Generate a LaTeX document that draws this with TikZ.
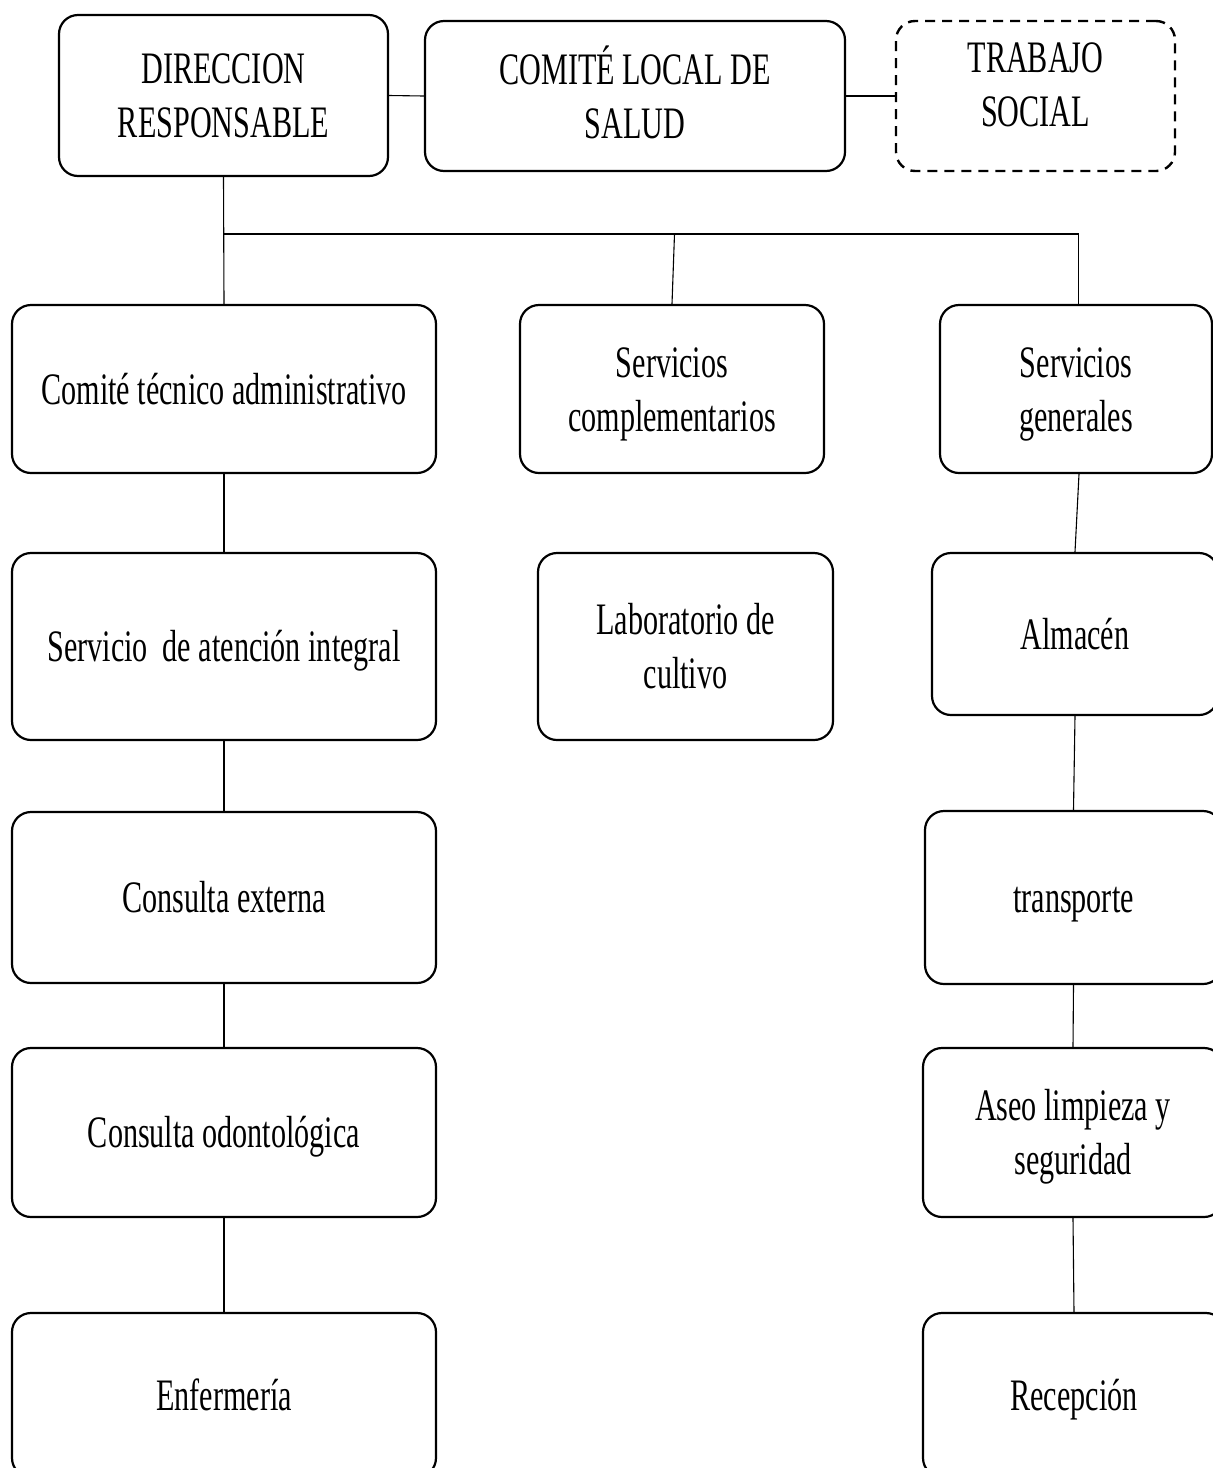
\documentclass[tikz,border=0pt]{standalone}
\usepackage{fontspec}
\setmainfont{Liberation Serif}[FakeStretch=0.67]
\begin{document}
\begin{tikzpicture}[x=1pt,y=-1pt,
  box/.style={draw=black, line width=2.2pt, rounded corners=19pt, rectangle,
    inner sep=0pt, align=center, font=\fontsize{45}{54}\selectfont},
  dbox/.style={box, dashed, dash pattern=on 10pt off 7pt, line width=2.4pt},
  onel/.style={text height=30pt, text depth=0pt},
  twol/.style={text height=84pt, text depth=0pt},
  twoup/.style={text height=84pt, text depth=24pt},
  conn/.style={draw=black, line width=1.1pt}]
\useasboundingbox (0,0) rectangle (1213,1468);
% top row
\node[box, twol, minimum width=329pt, minimum height=161pt] (dir) at (223.5,95.5) {DIRECCION\\RESPONSABLE};
\node[box, twol, minimum width=420pt, minimum height=150pt] (clocal) at (635,96) {COMITÉ LOCAL DE\\SALUD};
\node[dbox, twoup, minimum width=279pt, minimum height=150pt] (ts) at (1035.5,96) {TRABAJO\\SOCIAL};
% second row
\node[box, onel, minimum width=424pt, minimum height=168pt] (cta) at (224,389) {Comité técnico administrativo};
\node[box, twol, minimum width=304pt, minimum height=168pt] (scomp) at (672,389) {Servicios\\complementarios};
\node[box, twol, minimum width=272pt, minimum height=168pt] (sgen) at (1076,389) {Servicios\\generales};
% third row
\node[box, onel, minimum width=424pt, minimum height=187pt] (sai) at (224,646.5) {Servicio\ \ de atención integral};
\node[box, twol, minimum width=295pt, minimum height=187pt] (lab) at (685.5,646.5) {Laboratorio de\\cultivo};
\node[box, onel, minimum width=286pt, minimum height=162pt] (alm) at (1075,634) {Almacén};
% fourth row
\node[box, onel, minimum width=424pt, minimum height=171pt] (ce) at (224,897.5) {Consulta externa};
\node[box, onel, minimum width=297pt, minimum height=173pt] (tra) at (1073.5,897.5) {transporte};
% fifth row
\node[box, onel, minimum width=424pt, minimum height=169pt] (co) at (224,1132.5) {Consulta odontológica};
\node[box, twol, minimum width=300pt, minimum height=169pt] (aseo) at (1073,1132.5) {Aseo limpieza y\\seguridad};
% sixth row
\node[box, onel, minimum width=424pt, minimum height=164pt] (enf) at (224,1395) {Enfermería};
\node[box, onel, minimum width=302pt, minimum height=164pt] (rec) at (1074,1395) {Recepción};
% connectors
\draw[conn] (dir.east) -- (clocal.west);
\draw[conn] (clocal.east) -- (ts.west);
\draw[conn] (dir.south) -- (cta.north);
\coordinate (jl) at (223.5,234);
\coordinate (jm) at (674.5,234);
\coordinate (jr) at (1078.5,234);
\draw[conn] (jl) -- (jr);
\draw[conn] (jm) -- (scomp.north);
\draw[conn] (jr) -- (jr |- sgen.north);
\draw[conn] (cta.south) -- (sai.north);
\draw[conn] (sai.south) -- (ce.north);
\draw[conn] (ce.south) -- (co.north);
\draw[conn] (co.south) -- (enf.north);
\draw[conn] ([xshift=3pt]sgen.south) -- (alm.north);
\draw[conn] (alm.south) -- (tra.north);
\draw[conn] (tra.south) -- (aseo.north);
\draw[conn] (aseo.south) -- (rec.north);
\end{tikzpicture}
\end{document}
